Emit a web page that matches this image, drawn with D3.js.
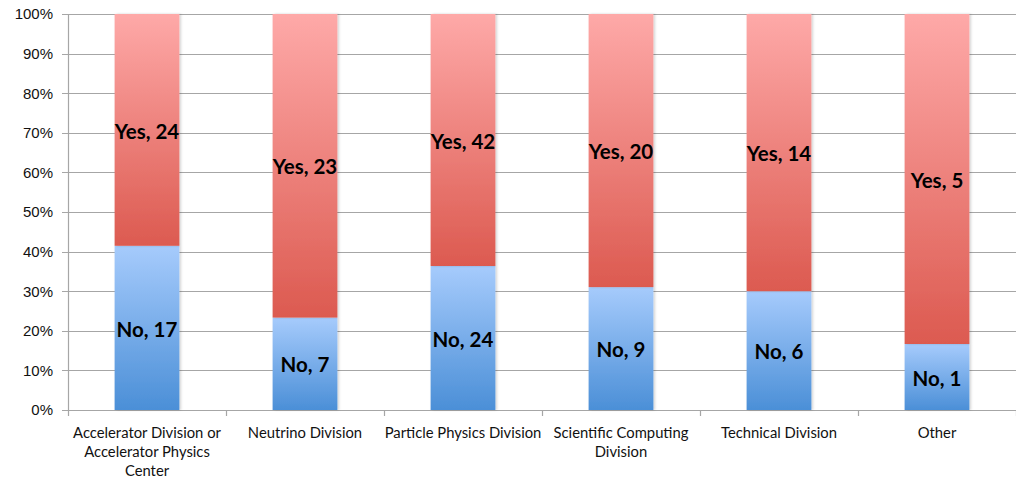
<!DOCTYPE html>
<html>
<head>
<meta charset="utf-8">
<script src="https://cdn.jsdelivr.net/npm/d3@7"></script>
<style>
  html, body { margin: 0; padding: 0; background: #fff; }
  svg { display: block; font-family: Lato, "Open Sans", sans-serif; }
</style>
</head>
<body>
<svg id="chart" width="1016" height="479"></svg>
<script>
// Survey answers per division
const categories = [
  "Accelerator Division or Accelerator Physics Center",
  "Neutrino Division",
  "Particle Physics Division",
  "Scientific Computing Division",
  "Technical Division",
  "Other"
];
const noCounts  = [17, 7, 24, 9, 6, 1];
const yesCounts = [24, 23, 42, 20, 14, 5];
const seriesNames = ["No", "Yes"];
const yTicks = [0, 0.1, 0.2, 0.3, 0.4, 0.5, 0.6, 0.7, 0.8, 0.9, 1.0];

const rows = categories.map((c, i) => ({ category: c, No: noCounts[i], Yes: yesCounts[i] }));

const width = 1016, height = 479;
const margin = { top: 14, right: 0, bottom: 69, left: 68 };

const svg = d3.select("#chart");

const x = d3.scaleBand()
  .domain(categories)
  .range([margin.left, width - margin.right])
  .paddingInner(0.59)
  .paddingOuter(0.295);

const y = d3.scaleLinear()
  .domain([0, 1])
  .range([height - margin.bottom, margin.top]);

const stack = d3.stack().keys(seriesNames).offset(d3.stackOffsetExpand);
const layers = stack(rows);

// Vertical gradients for each series
const defs = svg.append("defs");
const grads = {
  No:  ["#a6cbfc", "#4b8fd7"],
  Yes: ["#fea9a8", "#dc5a50"]
};
Object.entries(grads).forEach(([k, [top, bottom]]) => {
  const g = defs.append("linearGradient")
    .attr("id", "grad-" + k)
    .attr("x1", 0).attr("y1", 0).attr("x2", 0).attr("y2", 1);
  g.append("stop").attr("offset", "0%").attr("stop-color", top);
  g.append("stop").attr("offset", "100%").attr("stop-color", bottom);
});
const shadow = defs.append("filter").attr("id", "barShadow")
  .attr("x", "-10%").attr("y", "-5%").attr("width", "130%").attr("height", "110%");
shadow.append("feDropShadow")
  .attr("dx", 1.5).attr("dy", 0).attr("stdDeviation", 1)
  .attr("flood-color", "#000").attr("flood-opacity", 0.18);

// Gridlines
svg.append("g")
  .selectAll("line")
  .data(yTicks)
  .join("line")
  .attr("x1", margin.left - 6)
  .attr("x2", width - margin.right)
  .attr("y1", d => Math.round(y(d)) + 0.5)
  .attr("y2", d => Math.round(y(d)) + 0.5)
  .attr("stroke", "#a6a6a6")
  .attr("stroke-width", 1.2);

// Y axis
const yAxis = svg.append("g")
  .attr("transform", `translate(${margin.left},0)`)
  .call(d3.axisLeft(y).tickValues(yTicks).tickFormat(d3.format(".0%")).tickSize(0).tickPadding(15));
yAxis.select(".domain").attr("stroke", "#a6a6a6").attr("stroke-width", 1.2);
yAxis.selectAll("text").attr("font-size", 15).attr("fill", "#111");

// X axis: tick marks between categories
const bounds = d3.range(categories.length + 1).map(i => margin.left + i * x.step());
svg.append("g")
  .selectAll("line")
  .data(bounds)
  .join("line")
  .attr("x1", d => Math.round(d) + 0.5)
  .attr("x2", d => Math.round(d) + 0.5)
  .attr("y1", y(0))
  .attr("y2", y(0) + 6)
  .attr("stroke", "#a6a6a6")
  .attr("stroke-width", 1.2);

// Bars
const layerG = svg.append("g").selectAll("g")
  .data(layers)
  .join("g")
  .attr("fill", d => `url(#grad-${d.key})`);

layerG.selectAll("rect")
  .data(d => d.map(s => ({ key: d.key, s })))
  .join("rect")
  .attr("filter", "url(#barShadow)")
  .attr("x", d => x(d.s.data.category))
  .attr("width", x.bandwidth())
  .attr("y", d => y(d.s[1]))
  .attr("height", d => y(d.s[0]) - y(d.s[1]));

// Segment labels
svg.append("g").selectAll("g")
  .data(layers)
  .join("g")
  .selectAll("text")
  .data(d => d.map(s => ({ key: d.key, s })))
  .join("text")
  .attr("x", d => x(d.s.data.category) + x.bandwidth() / 2)
  .attr("y", d => (y(d.s[0]) + y(d.s[1])) / 2)
  .attr("dy", "0.42em")
  .attr("text-anchor", "middle")
  .attr("font-size", 20.5)
  .attr("font-weight", 700)
  .attr("fill", "#000")
  .text(d => `${d.key}, ${d.s.data[d.key]}`);

// Category labels, wrapped
const catFont = 14.8;
function wrap(label, maxWidth, fontSize) {
  const probe = svg.append("text").attr("font-size", fontSize);
  const words = label.split(" ");
  const lines = [];
  let line = [];
  words.forEach(w => {
    line.push(w);
    probe.text(line.join(" "));
    if (probe.node().getComputedTextLength() > maxWidth && line.length > 1) {
      line.pop();
      lines.push(line.join(" "));
      line = [w];
    }
  });
  lines.push(line.join(" "));
  probe.remove();
  return lines;
}

const catG = svg.append("g");
categories.forEach(c => {
  const lines = wrap(c, x.step() + 6, catFont);
  const t = catG.append("text")
    .attr("text-anchor", "middle")
    .attr("font-size", catFont)
    .attr("fill", "#111");
  lines.forEach((ln, i) => {
    t.append("tspan")
      .attr("x", x(c) + x.bandwidth() / 2)
      .attr("y", 438 + i * 19)
      .text(ln);
  });
});
</script>
</body>
</html>
